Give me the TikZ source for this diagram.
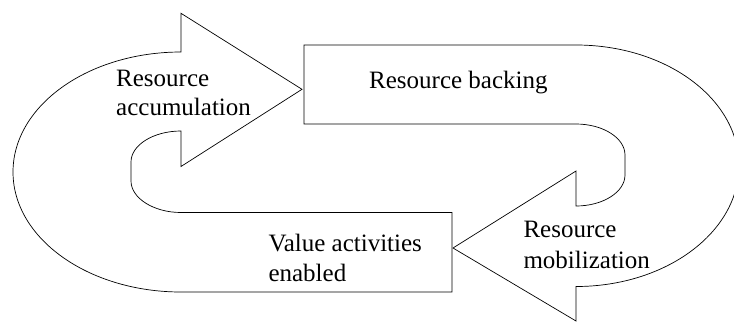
\documentclass[tikz,border=0pt]{standalone}
\usepackage{fontspec}
\setmainfont{Liberation Serif}
\begin{document}
\begin{tikzpicture}[x=1pt,y=-1pt,
  outline/.style={draw=black, line width=0.7pt, line join=miter, fill=white},
  lbl/.style={anchor=base west, inner sep=0pt, font=\fontsize{25}{30}\selectfont}]
\clip (0,0) rectangle (734,322);
% left U-shaped arrow ending in the "Value activities enabled" box
\path[outline] (181,52)
  .. controls (88.2,52) and (13,105.7) .. (13,172)
  .. controls (13,238.3) and (88.2,292) .. (181,292)
  -- (452,292) -- (452,212.5) -- (181,212.5)
  .. controls (153.5,212.5) and (131,198) .. (131,181)
  -- (131,162)
  .. controls (131,145) and (153.5,131) .. (181,131)
  -- (181,166.5) -- (302,89.3) -- (181,13.3) -- cycle;
% right U-shaped arrow starting with the "Resource backing" box
\path[outline] (304,45) -- (576,45)
  .. controls (666,45) and (739,98.7) .. (739,165.5)
  .. controls (739,232.3) and (666,286.5) .. (576,286.5)
  -- (576,321) -- (453,248) -- (576,171) -- (576,206)
  .. controls (603,206) and (625,192) .. (625,175)
  -- (625,155)
  .. controls (625,138) and (603,124) .. (576,124)
  -- (304,124) -- cycle;
% labels
\node[lbl] (acc1) at (116,86) {Resource};
\node[lbl] (acc2) at (116,115) {accumulation};
\node[lbl] (back) at (369,88.3) {Resource backing};
\node[lbl] (val1) at (268.3,251.7) {Value activities};
\node[lbl] (val2) at (268.3,281.7) {enabled};
\node[lbl] (mob1) at (523.3,237.3) {Resource};
\node[lbl] (mob2) at (523.3,268.3) {mobilization};
\end{tikzpicture}
\end{document}
